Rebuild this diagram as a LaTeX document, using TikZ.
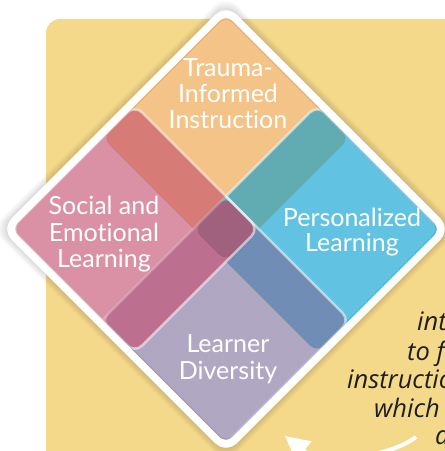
\documentclass[tikz,border=0pt]{standalone}
\usepackage{fontspec}
\setmainfont{Lato}[Ligatures=NoCommon]
\newfontfamily\sidefont{Open Sans}[Ligatures=NoCommon]
\usetikzlibrary{arrows.meta}
\definecolor{ylw}{HTML}{F5D98A}
\definecolor{corange}{HTML}{F4C388}
\definecolor{cpink}{HTML}{DA91A6}
\definecolor{cblue}{HTML}{62C2E1}
\definecolor{clav}{HTML}{B0A8C3}
\definecolor{cred}{HTML}{D77B76}
\definecolor{cteal}{HTML}{61ABB2}
\definecolor{cslate}{HTML}{6F8DB5}
\definecolor{cmag}{HTML}{BC6F8E}
\definecolor{ccen}{HTML}{A0617F}
\definecolor{txtdark}{HTML}{1E1E1E}
\begin{document}
\begin{tikzpicture}[x=1pt,y=1pt,
  lbl/.style={text=white, font=\fontsize{25}{27}\selectfont, inner sep=0pt, anchor=base},
  side/.style={text=txtdark, font=\sidefont\fontsize{25.5}{29}\selectfont\itshape, inner sep=0pt, anchor=base west},
  outl/.style={draw=white, line width=2.5pt, draw opacity=0.55, rounded corners=10pt},
  sq/.style={rounded corners=10pt}]
\useasboundingbox (0,0) rectangle (445,451);
\fill[white] (0,0) rectangle (445,451);
\fill[ylw, rounded corners=14pt] (46,432) rectangle (475,-25);
\begin{scope}[shift={(226,222)}, rotate=-45]
  % soft shadow
  \foreach \k in {1,...,8}
    \fill[black, opacity=0.02, rounded corners=16pt] (-158-\k,-158-\k) rectangle (158+\k,158+\k);
  \fill[white, rounded corners=15pt] (-159,-159) rectangle (159,159);
  % four quadrants
  \fill[corange, sq] (-152,-23) rectangle (23,152);
  \fill[cpink, sq] (-152,-152) rectangle (23,23);
  \fill[cblue, sq] (-23,-23) rectangle (152,152);
  \fill[clav, sq] (-23,-152) rectangle (152,23);
  % overlaps
  \begin{scope}
    \clip[sq] (-152,-23) rectangle (23,152);
    \fill[cred, sq] (-152,-152) rectangle (23,23);
  \end{scope}
  \begin{scope}
    \clip[sq] (-152,-23) rectangle (23,152);
    \fill[cteal, sq] (-23,-23) rectangle (152,152);
  \end{scope}
  \begin{scope}
    \clip[sq] (-23,-23) rectangle (152,152);
    \fill[cslate, sq] (-23,-152) rectangle (152,23);
  \end{scope}
  \begin{scope}
    \clip[sq] (-152,-152) rectangle (23,23);
    \fill[cmag, sq] (-23,-152) rectangle (152,23);
  \end{scope}
  \begin{scope}
    \clip[sq] (-152,-23) rectangle (23,152);
    \clip[sq] (-152,-152) rectangle (23,23);
    \clip[sq] (-23,-23) rectangle (152,152);
    \fill[ccen, sq] (-23,-152) rectangle (152,23);
  \end{scope}
  % light outlines
  \draw[outl] (-152,-152) rectangle (23,23);
  \draw[outl] (-23,23) -- (-23,152) -- (152,152);
  \draw[outl] (-23,23) -- (152,23) -- (152,-152);
  \draw[outl, draw opacity=0.2] (-23,23) -- (-23,-152);
  % white frame
  \draw[black, opacity=0.07, line width=1.2pt, rounded corners=9pt] (-151,-151) rectangle (151,151);
  \draw[white, line width=7pt, rounded corners=12pt] (-155.5,-155.5) rectangle (155.5,155.5);
\end{scope}
% labels
\node[lbl] (tr1) at (228,374) {Trauma-};
\node[lbl] (tr2) at (228,348) {Informed};
\node[lbl] (tr3) at (228,322) {Instruction};
\node[lbl] (se1) at (104,236) {Social and};
\node[lbl] (se2) at (104,209) {Emotional};
\node[lbl] (se3) at (104,183) {Learning};
\node[lbl] (pl1) at (352,224) {Personalized};
\node[lbl] (pl2) at (352,199) {Learning};
\node[lbl] (ld1) at (228,98) {Learner};
\node[lbl] (ld2) at (228,71) {Diversity};
% side text
\node[side] (s1) at (417,121) {int};
\node[side] (s2) at (407,91) {to f};
\node[side] (s3) at (347,63) {instructio};
\node[side] (s4) at (374,34) {which};
\node[side] (s5) at (435,6) {a};
% arrow
\coordinate (arrS) at (416,14);
\coordinate (arrT) at (285,15);
\draw[white, line width=4pt, -{Triangle[length=24pt,width=24pt]}] (arrS) .. controls (384,-10) and (316,-10) .. (arrT);
\end{tikzpicture}
\end{document}
